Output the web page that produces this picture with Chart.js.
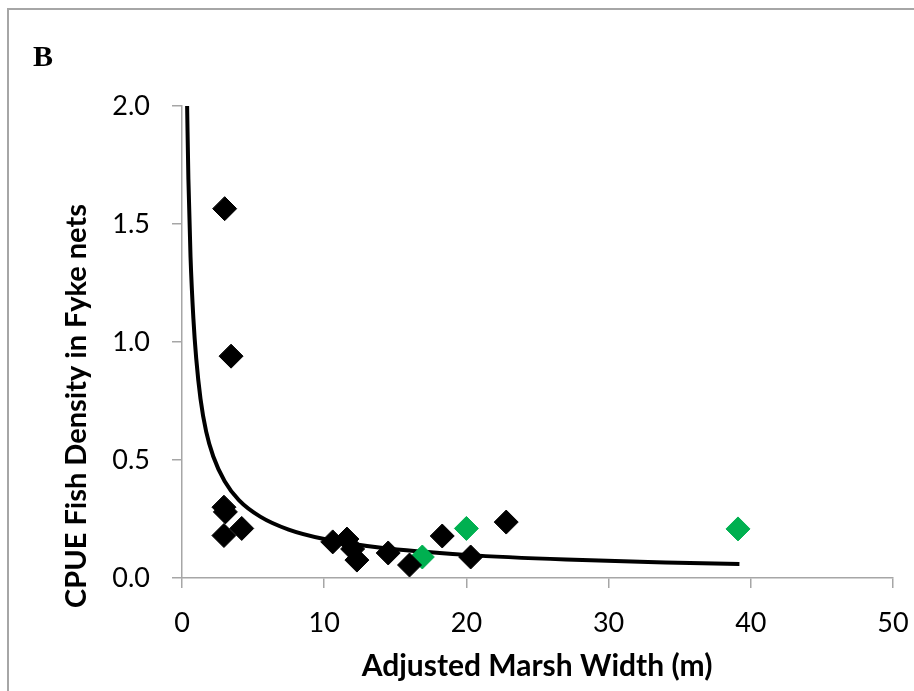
<!DOCTYPE html>
<html lang="en">
<head>
    <meta charset="UTF-8">
    <title>CPUE vs Marsh Width</title>
    <script src="https://cdn.jsdelivr.net/npm/chart.js"></script>
    <style>
        html, body { margin: 0; padding: 0; background: #fff; }
        .wrap { width: 914px; height: 691px; position: relative; }
    </style>
</head>
<body>
    <div class="wrap">
        <canvas id="chart" width="914" height="691"></canvas>
    </div>

    <script>
        // black diamonds (marsh width, CPUE)
        const blackX = [3.0, 3.45, 2.95, 3.05, 2.95, 4.2, 10.6, 11.6, 12.0, 12.3, 14.5, 16.0, 18.3, 20.3, 22.8];
        const blackY = [1.565, 0.94, 0.30, 0.28, 0.18, 0.21, 0.153, 0.165, 0.123, 0.076, 0.106, 0.055, 0.178, 0.089, 0.237];

        // green diamonds
        const greenX = [16.9, 20.0, 39.1];
        const greenY = [0.089, 0.21, 0.208];

        // power trendline
        const trendX = [0.36, 0.45, 0.6, 0.8, 1.0, 1.3, 1.7, 2.2, 3.0, 4.0, 5.5, 7.5, 10, 14, 20, 27, 34, 39.2];
        const trendY = [2.0, 1.69, 1.36, 1.10, 0.93, 0.76, 0.62, 0.515, 0.41, 0.33, 0.26, 0.205, 0.165, 0.128, 0.098, 0.078, 0.066, 0.059];

        const xTicks = [0, 10, 20, 30, 40, 50];
        const yTicks = [0, 0.5, 1.0, 1.5, 2.0];

        const xTitle = 'Adjusted Marsh Width (m)';
        const yTitle = 'CPUE Fish Density in Fyke nets';
        const panelLabel = 'B';

        const toPoints = (xs, ys) => xs.map((x, i) => ({ x: x, y: ys[i] }));

        const axisGray = '#a6a6a6';
        const tickFont = { family: 'Lato', size: 27 };

        // frame, panel letter and axis titles
        const decor = {
            id: 'decor',
            afterDraw(chart) {
                const ctx = chart.ctx;
                ctx.save();
                ctx.strokeStyle = axisGray;
                ctx.lineWidth = 2;
                ctx.beginPath();
                ctx.moveTo(8, 691);
                ctx.lineTo(8, 9);
                ctx.lineTo(914, 9);
                ctx.stroke();

                ctx.fillStyle = '#000';
                ctx.font = 'bold 30px "Liberation Serif"';
                ctx.textAlign = 'center';
                ctx.textBaseline = 'middle';
                ctx.fillText(panelLabel, 43, 58);

                ctx.font = 'bold 30px Lato';
                ctx.fillText(xTitle, 537, 666);

                ctx.font = 'bold 29px Lato';
                ctx.translate(77, 406);
                ctx.rotate(-Math.PI / 2);
                ctx.fillText(yTitle, 0, 0);
                ctx.restore();
            }
        };

        new Chart(document.getElementById('chart'), {
            type: 'scatter',
            data: {
                datasets: [
                    {
                        label: 'trend',
                        data: toPoints(trendX, trendY),
                        showLine: true,
                        borderColor: '#000',
                        borderWidth: 4,
                        pointRadius: 0,
                        cubicInterpolationMode: 'monotone',
                        order: 3
                    },
                    {
                        label: 'sites',
                        data: toPoints(blackX, blackY),
                        pointStyle: 'rectRot',
                        pointRadius: 12,
                        backgroundColor: '#000',
                        borderColor: '#000',
                        borderWidth: 1,
                        order: 1
                    },
                    {
                        label: 'other',
                        data: toPoints(greenX, greenY),
                        pointStyle: 'rectRot',
                        pointRadius: 12,
                        backgroundColor: '#00b050',
                        borderColor: '#00b050',
                        borderWidth: 1,
                        order: 2
                    }
                ]
            },
            options: {
                responsive: false,
                animation: false,
                layout: { padding: { left: 0, top: 106, right: 21, bottom: 0 } },
                plugins: {
                    legend: { display: false },
                    tooltip: { enabled: false }
                },
                scales: {
                    x: {
                        type: 'linear',
                        min: 0,
                        max: 50,
                        afterFit: s => { s.height = 113; s.paddingLeft = 0; s.paddingRight = 0; },
                        afterBuildTicks: s => { s.ticks = xTicks.map(v => ({ value: v })); },
                        grid: { drawOnChartArea: false, color: axisGray, tickLength: 10, lineWidth: 1.5 },
                        border: { color: axisGray, width: 1.5 },
                        ticks: { color: '#000', font: tickFont, padding: 19, maxRotation: 0 }
                    },
                    y: {
                        type: 'linear',
                        min: 0,
                        max: 2,
                        afterFit: s => { s.width = 182; s.paddingTop = 0; s.paddingBottom = 0; },
                        afterBuildTicks: s => { s.ticks = yTicks.map(v => ({ value: v })); },
                        grid: { drawOnChartArea: false, color: axisGray, tickLength: 10, lineWidth: 1.5 },
                        border: { color: axisGray, width: 1.5 },
                        ticks: {
                            color: '#000',
                            font: tickFont,
                            padding: 22,
                            callback: v => v.toFixed(1)
                        }
                    }
                }
            },
            plugins: [decor]
        });
    </script>
</body>
</html>
